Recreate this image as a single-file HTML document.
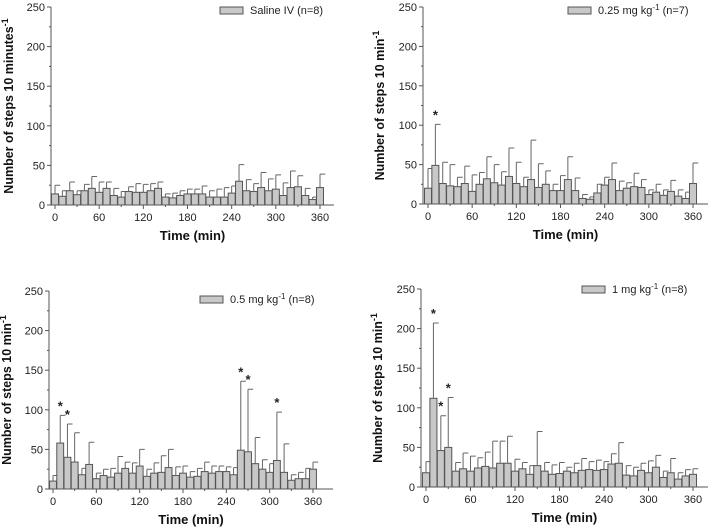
<!DOCTYPE html>
<html><head><meta charset="utf-8">
<style>
html,body{margin:0;padding:0;background:#fff;}
svg{display:block;font-family:"Liberation Sans",Arial,sans-serif;}
</style></head>
<body>
<svg id="fig" width="709" height="531" viewBox="0 0 709 531"></svg>
<script>
const times = [0,10,20,30,40,50,60,70,80,90,100,110,120,130,140,150,160,170,180,190,200,210,220,230,240,250,260,270,280,290,300,310,320,330,340,350,360];
const yTicks = [0,50,100,150,200,250];
const xTicks = [0,60,120,180,240,300,360];

const salineMean = [14,11,18,13,18,21,16,21,12,10,17,16,16,18,21,10,9,12,14,14,14,10,10,10,15,30,18,17,22,18,20,12,22,23,12,7,22];
const salineTop  = [25,18,29,18,26,36,29,29,21,17,23,27,26,27,29,14,15,18,20,20,24,18,20,22,24,51,32,27,41,33,38,28,43,37,21,10,39];
const dose025Mean = [20,49,26,23,22,26,16,25,32,27,24,35,26,22,31,21,25,17,17,31,17,7,6,14,24,31,17,20,22,21,12,15,11,16,10,7,26];
const dose025Top  = [45,101,53,50,34,48,37,40,60,50,41,71,53,34,81,51,42,25,36,60,33,12,9,25,34,52,29,27,39,31,18,25,18,30,18,15,52];
const dose05Mean = [10,58,40,34,18,31,13,17,15,20,26,20,29,16,20,21,27,17,20,15,16,22,20,22,22,18,49,47,32,25,21,36,21,11,13,13,25];
const dose05Top  = [17,93,82,71,26,59,20,25,26,41,34,33,50,25,33,42,50,28,29,22,26,34,29,29,28,27,136,126,65,37,32,97,57,18,21,26,34];
const dose1Mean = [18,112,46,50,20,23,20,24,26,24,30,30,20,23,16,27,20,16,17,20,18,21,22,21,22,29,30,15,14,21,18,25,12,18,10,14,16];
const dose1Top  = [32,207,90,113,31,43,39,37,44,58,58,64,35,31,27,70,31,28,31,25,30,36,32,34,32,42,56,27,25,30,33,40,20,36,18,22,23];
const salineStars = [];
const dose025Stars = [1];
const dose05Stars = [1,2,26,27,31];
const dose1Stars = [1,2,3];

const NS='http://www.w3.org/2000/svg';
const svg=document.getElementById('fig');
function mk(tag,attrs,parent){const e=document.createElementNS(NS,tag);for(const k in attrs)e.setAttribute(k,attrs[k]);(parent||svg).appendChild(e);return e;}

const panels=[
 {name:'saline',mean:salineMean,top:salineTop,stars:salineStars,ax:51,x0:55,x360:320,xEnd:334,y0:205,y250:7,ylab:'Number of steps 10 minutes',yl:13,legX:220,legY:10,leg:'Saline IV (n=8)',sup:false},
 {name:'dose-025',mean:dose025Mean,top:dose025Top,stars:dose025Stars,ax:423,x0:428,x360:693,xEnd:708,y0:204,y250:7,ylab:'Number of steps 10 min',yl:384,legX:568,legY:10,leg:'0.25 mg kg',legTail:' (n=7)',sup:true},
 {name:'dose-05',mean:dose05Mean,top:dose05Top,stars:dose05Stars,ax:49,x0:53,x360:313,xEnd:333,y0:489,y250:291,ylab:'Number of steps 10 min',yl:11,legX:200,legY:299,leg:'0.5 mg kg',legTail:' (n=8)',sup:true},
 {name:'dose-1',mean:dose1Mean,top:dose1Top,stars:dose1Stars,ax:421,x0:426,x360:693,xEnd:708,y0:487,y250:289,ylab:'Number of steps 10 min',yl:382,legX:582,legY:289,leg:'1 mg kg',legTail:' (n=8)',sup:true}
];

panels.forEach(p=>{
  const g=mk('g',{});
  
  
  const xs=t=>p.x0+(t/360)*(p.x360-p.x0);
  const ys=v=>p.y0-(v/250)*(p.y0-p.y250);
  const bw=(p.x360-p.x0)/36*0.95;
  // bars
  p.mean.forEach((m,i)=>{
    const cx=xs(times[i]);
    const r=mk('rect',{x:cx-bw/2,y:ys(m),width:bw,height:p.y0-ys(m),fill:'#c8c8c8',stroke:'#555','stroke-width':1},g);
    
    
    const e=mk('path',{d:`M${cx},${ys(m)}V${ys(p.top[i])}M${cx},${ys(p.top[i])}H${cx+bw*0.75}`,stroke:'#666','stroke-width':1,fill:'none'},g);
    
    
  });
  p.stars.forEach(i=>{
    const s=mk('text',{x:xs(times[i]),y:ys(p.top[i])-5,'text-anchor':'middle','font-size':13,'font-weight':'bold',fill:'#222'},g);
    s.textContent='*';
    
    
  });
  // axes
  mk('path',{d:`M${p.ax},${p.y250}V${p.y0}H${p.xEnd}`,stroke:'#555','stroke-width':1,fill:'none'},g);
  for(let v=0;v<=250;v+=25){
    const major=v%50===0;
    mk('line',{x1:p.ax-(major?4:2),x2:p.ax,y1:ys(v),y2:ys(v),stroke:'#555'},g);
  }
  yTicks.forEach(v=>{
    const t=mk('text',{x:p.ax-6,y:ys(v)+4,'text-anchor':'end','font-size':11,fill:'#222'},g);
    t.textContent=v;
    
    
  });
  for(let tt=0;tt<=360;tt+=30){
    mk('line',{x1:xs(tt),x2:xs(tt),y1:p.y0,y2:p.y0+(tt%60===0?4:2),stroke:'#555'},g);
  }
  xTicks.forEach(v=>{
    const t=mk('text',{x:xs(v),y:p.y0+16,'text-anchor':'middle','font-size':11,fill:'#222'},g);
    t.textContent=v;
    
    
  });
  const xt=mk('text',{x:(p.ax+p.xEnd)/2,y:p.y0+35,'text-anchor':'middle','font-size':13,'font-weight':'bold',fill:'#111'},g);
  xt.textContent='Time (min)';
  
  
  const cy=(p.y0+p.y250)/2;
  const yt=mk('text',{x:0,y:0,transform:`translate(${p.yl},${cy}) rotate(-90)`,'text-anchor':'middle','font-size':12.5,'font-weight':'bold',fill:'#111'},g);
  yt.textContent=p.ylab;
  const ts=mk('tspan',{dy:-5,'font-size':9},yt);ts.textContent='-1';
  
  
  // legend
  const lg=mk('g',{},g);
  
  
  mk('rect',{x:p.legX,y:p.legY-3,width:23,height:7,fill:'#c8c8c8',stroke:'#555'},lg);
  const lt=mk('text',{x:p.legX+30,y:p.legY+4,'font-size':11,fill:'#222'},lg);
  lt.textContent=p.leg;
  if(p.sup){
    const s1=mk('tspan',{dy:-4,'font-size':8},lt);s1.textContent='-1';
    const s2=mk('tspan',{dy:4},lt);s2.textContent=p.legTail;
  }
});
</script>
</body></html>
